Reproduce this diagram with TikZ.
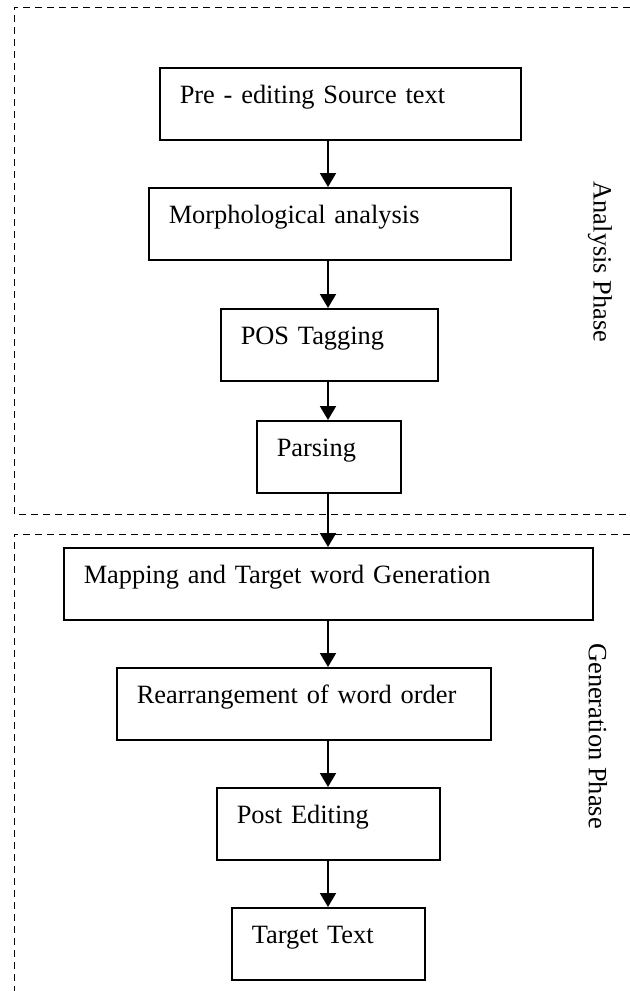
\documentclass[tikz,border=0pt]{standalone}
\usepackage{fontspec}
\setmainfont{Liberation Serif}
\usetikzlibrary{arrows.meta}
\tikzset{
  stage/.style={draw, line width=0.75pt, anchor=north west, inner xsep=10pt, inner ysep=0pt,
    minimum height=36pt, align=left, text height=0.7em, text depth=0.7em},
  flow/.style={-{Triangle[length=7pt,width=8pt]}, line width=1pt},
  frame/.style={dash pattern=on 3.5pt off 2.5pt, line width=0.5pt},
}
\begin{document}
\begin{tikzpicture}[x=0.5pt,y=-0.5pt,font=\fontsize{13.2}{15}\selectfont]
    \useasboundingbox (0,0) rectangle (630,991);

    % phase frames
    \draw[frame] (630,7) -- (14,7) -- (14,514) -- (630,514);
    \draw[frame] (630,534) -- (14,534) -- (14,991);

    \node[stage, text width=160.5pt] (pre) at (159,67) {Pre - editing Source text};
    \node[stage, text width=161pt] (morph) at (148,187) {Morphological analysis};
    \node[stage, text width=88.5pt] (pos) at (220,308) {POS Tagging};
    \node[stage, text width=52pt] (parse) at (256,420) {Parsing};
    \node[stage, text width=244.5pt] (map) at (63,547) {Mapping and Target word Generation};
    \node[stage, text width=167pt] (rearr) at (116,667) {Rearrangement of word order};
    \node[stage, text width=91.5pt] (post) at (216,787) {Post Editing};
    \node[stage, text width=76.5pt] (target) at (231,907) {Target Text};

    \node[rotate=-90] (analysis) at (600,262) {Analysis Phase};
    \node[rotate=-90] (generation) at (598,736) {Generation Phase};

    \coordinate (spine) at (328,0);
    \draw[flow] (pre.south -| spine) -- (morph.north -| spine);
    \draw[flow] (morph.south -| spine) -- (pos.north -| spine);
    \draw[flow] (pos.south -| spine) -- (parse.north -| spine);
    \draw[flow] (parse.south -| spine) -- (map.north -| spine);
    \draw[flow] (map.south -| spine) -- (rearr.north -| spine);
    \draw[flow] (rearr.south -| spine) -- (post.north -| spine);
    \draw[flow] (post.south -| spine) -- (target.north -| spine);
\end{tikzpicture}
\end{document}
